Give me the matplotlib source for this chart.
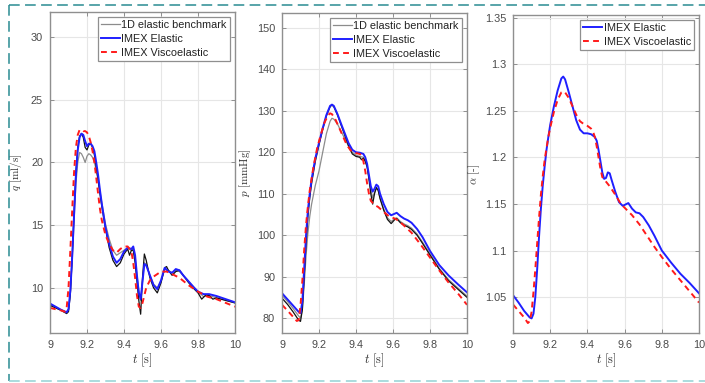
import numpy as np
import matplotlib
matplotlib.use("Agg")
import matplotlib.pyplot as plt
from matplotlib.lines import Line2D

plt.rcParams['font.family'] = ['Liberation Sans', 'DejaVu Sans']
plt.rcParams['mathtext.fontset'] = 'cm'

# ---- flow rate q [ml/s] ----
t_q_fine = [9.00, 9.03, 9.06, 9.09, 9.10, 9.11, 9.12, 9.13, 9.14, 9.15, 9.16, 9.17, 9.18, 9.19,
            9.20, 9.21, 9.22, 9.23, 9.24, 9.25, 9.26, 9.27, 9.28, 9.30, 9.32, 9.34, 9.36, 9.38,
            9.40, 9.42, 9.43, 9.44, 9.45, 9.46, 9.47, 9.48, 9.49, 9.50, 9.51, 9.52, 9.54, 9.56,
            9.58, 9.60, 9.62, 9.63, 9.64, 9.66, 9.68, 9.70, 9.72, 9.75, 9.78, 9.80, 9.82, 9.84,
            9.86, 9.88, 9.90, 9.95, 10.0]
q_bench_fine = [8.6, 8.4, 8.2, 7.95, 8.1, 9.5, 12.5, 16.0, 19.3, 21.2, 22.1, 22.3, 22.0, 21.2,
                21.0, 21.4, 21.5, 21.2, 20.6, 19.6, 18.6, 17.5, 16.5, 14.7, 13.2, 12.2, 11.7, 12.0,
                12.7, 13.1, 12.6, 13.0, 13.0, 12.0, 10.5, 9.0, 7.9, 10.8, 12.7, 12.2, 10.8, 10.0,
                9.6, 10.4, 11.6, 11.7, 11.4, 11.0, 11.3, 11.4, 11.0, 10.4, 9.9, 9.6, 9.1, 9.4,
                9.4, 9.1, 9.2, 9.0, 8.8]

t_q = [9.00, 9.03, 9.06, 9.09, 9.10, 9.11, 9.12, 9.13, 9.14, 9.15, 9.16, 9.17, 9.18, 9.19,
       9.20, 9.21, 9.22, 9.23, 9.24, 9.25, 9.26, 9.27, 9.28, 9.30, 9.32, 9.34, 9.36, 9.38,
       9.40, 9.42, 9.44, 9.45, 9.46, 9.47, 9.48, 9.49, 9.50, 9.51, 9.52, 9.54, 9.56, 9.58,
       9.60, 9.62, 9.64, 9.66, 9.68, 9.70, 9.72, 9.75, 9.78, 9.80, 9.83, 9.86, 9.90, 9.95, 10.0]
q_bench_coarse = [8.7, 8.45, 8.25, 8.05, 8.3, 9.6, 12.2, 15.3, 18.3, 20.0, 20.8, 20.7, 20.4, 20.0,
                  20.5, 20.7, 20.6, 20.4, 20.0, 19.4, 18.6, 17.7, 16.8, 15.1, 13.9, 13.0, 12.6, 12.8,
                  13.0, 13.2, 13.0, 13.1, 12.4, 11.0, 9.8, 9.0, 10.5, 12.0, 11.9, 11.0, 10.3, 10.0,
                  10.5, 11.5, 11.4, 11.2, 11.4, 11.3, 11.0, 10.5, 10.0, 9.7, 9.3, 9.4, 9.2, 9.0, 8.8]
q_elastic = [8.75, 8.5, 8.25, 8.05, 8.3, 9.8, 12.5, 15.8, 19.0, 21.0, 22.0, 22.3, 22.2, 21.7,
             21.3, 21.5, 21.5, 21.3, 20.9, 20.0, 19.0, 17.8, 16.7, 14.8, 13.5, 12.5, 12.0, 12.3,
             12.9, 13.2, 13.1, 13.3, 12.6, 11.0, 9.6, 9.1, 10.5, 11.9, 11.8, 11.0, 10.2, 9.9,
             10.6, 11.6, 11.3, 11.2, 11.5, 11.4, 11.0, 10.5, 10.0, 9.7, 9.5, 9.5, 9.35, 9.1, 8.85]

t_q_visc = [9.00, 9.03, 9.06, 9.08, 9.09, 9.10, 9.11, 9.12, 9.13, 9.14, 9.15, 9.16, 9.17, 9.18,
            9.19, 9.20, 9.21, 9.22, 9.23, 9.24, 9.25, 9.26, 9.27, 9.28, 9.30, 9.32, 9.34, 9.36,
            9.38, 9.40, 9.42, 9.44, 9.45, 9.46, 9.47, 9.48, 9.49, 9.50, 9.52, 9.54, 9.56, 9.58,
            9.60, 9.63, 9.66, 9.70, 9.75, 9.80, 9.85, 9.90, 9.95, 10.0]
q_visc = [8.4, 8.3, 8.2, 8.1, 8.4, 10.0, 13.0, 16.2, 19.2, 21.2, 22.2, 22.6, 22.6, 22.5,
          22.5, 22.4, 22.1, 21.6, 20.9, 20.0, 18.8, 17.5, 16.3, 15.4, 14.2, 13.5, 13.0, 12.8,
          13.1, 13.3, 13.3, 12.9, 12.0, 10.8, 9.4, 8.5, 8.4, 8.8, 10.0, 10.6, 10.9, 11.1,
          11.3, 11.3, 11.1, 10.8, 10.2, 9.7, 9.3, 9.1, 8.8, 8.5]

# ---- pressure p [mmHg] ----
t_p = [9.00, 9.03, 9.06, 9.09, 9.10, 9.11, 9.12, 9.13, 9.14, 9.15, 9.16, 9.18, 9.20, 9.22,
       9.24, 9.26, 9.27, 9.28, 9.30, 9.32, 9.34, 9.36, 9.38, 9.40, 9.42, 9.44, 9.45, 9.46,
       9.47, 9.48, 9.49, 9.50, 9.51, 9.52, 9.53, 9.55, 9.57, 9.59, 9.61, 9.62, 9.64, 9.66,
       9.68, 9.70, 9.73, 9.76, 9.80, 9.85, 9.90, 9.95, 10.0]
p_elastic = [86.0, 84.5, 83.0, 81.5, 81.2, 84.0, 92.0, 100.0, 106.0, 110.0, 113.5, 118.5, 122.3, 125.8,
             129.0, 131.2, 131.5, 131.2, 129.2, 126.8, 124.5, 122.2, 120.6, 120.0, 119.9, 119.6, 118.8, 117.2,
             114.5, 111.8, 110.5, 111.2, 112.2, 111.8, 110.0, 107.5, 105.6, 104.8, 105.2, 105.4, 104.6, 104.0,
             103.6, 103.0, 101.5, 99.5, 96.2, 92.8, 90.3, 88.2, 86.2]
p_bench_coarse = [85.5, 84.0, 82.3, 80.5, 80.0, 82.0, 88.0, 95.0, 100.5, 104.5, 107.5, 112.0, 115.5, 120.0,
                  124.5, 127.5, 128.2, 128.0, 126.8, 125.0, 123.2, 121.5, 120.0, 119.3, 119.0, 118.8, 118.0, 116.5,
                  114.0, 111.0, 109.0, 110.3, 111.3, 110.8, 109.0, 106.3, 104.2, 103.3, 104.0, 104.2, 103.3, 102.7,
                  102.3, 101.7, 100.3, 98.3, 95.5, 92.0, 89.3, 87.3, 85.3]

t_p_fine = [9.00, 9.03, 9.06, 9.09, 9.10, 9.11, 9.12, 9.13, 9.14, 9.15, 9.16, 9.18, 9.20, 9.22,
            9.24, 9.26, 9.27, 9.28, 9.30, 9.32, 9.34, 9.36, 9.38, 9.40, 9.42, 9.43, 9.44, 9.45,
            9.46, 9.47, 9.48, 9.49, 9.50, 9.51, 9.52, 9.53, 9.55, 9.57, 9.59, 9.61, 9.62, 9.64,
            9.66, 9.68, 9.70, 9.73, 9.76, 9.80, 9.85, 9.90, 9.95, 10.0]
p_bench_fine = [84.8, 83.3, 81.5, 79.5, 79.2, 82.0, 90.0, 98.0, 104.5, 109.0, 112.5, 117.8, 121.8, 125.5,
                128.8, 131.0, 131.4, 131.0, 129.0, 126.5, 124.0, 121.5, 119.6, 119.0, 118.8, 118.2, 118.6, 117.8,
                116.5, 113.5, 110.0, 107.5, 110.0, 111.5, 110.8, 108.8, 106.0, 103.8, 102.8, 103.8, 104.0, 103.0,
                102.4, 102.0, 101.4, 100.0, 98.0, 95.2, 91.8, 89.0, 87.0, 85.0]

t_p_visc = [9.00, 9.03, 9.06, 9.08, 9.09, 9.10, 9.11, 9.12, 9.13, 9.14, 9.15, 9.17, 9.19, 9.21,
            9.23, 9.25, 9.26, 9.27, 9.29, 9.31, 9.33, 9.35, 9.37, 9.40, 9.42, 9.43, 9.44, 9.45,
            9.46, 9.47, 9.48, 9.50, 9.52, 9.55, 9.58, 9.61, 9.63, 9.66, 9.70, 9.75, 9.80, 9.85,
            9.90, 9.95, 10.0]
p_visc = [83.2, 81.8, 80.3, 79.3, 79.5, 83.0, 89.0, 96.5, 102.5, 107.0, 110.8, 116.5, 121.0, 124.3,
          127.2, 129.0, 129.4, 129.2, 127.8, 125.8, 123.8, 121.8, 120.5, 119.8, 119.6, 119.2, 117.8, 115.5,
          112.5, 110.0, 108.3, 107.3, 106.8, 105.6, 104.5, 104.0, 103.5, 102.3, 100.6, 97.7, 94.6, 91.5,
          88.6, 86.0, 83.2]

# ---- area ratio alpha [-] ----
t_a = [9.00, 9.03, 9.06, 9.09, 9.10, 9.11, 9.12, 9.13, 9.14, 9.15, 9.16, 9.17, 9.18, 9.19,
       9.20, 9.22, 9.24, 9.26, 9.27, 9.28, 9.30, 9.32, 9.34, 9.36, 9.38, 9.40, 9.42, 9.44,
       9.45, 9.46, 9.47, 9.48, 9.49, 9.50, 9.51, 9.52, 9.53, 9.55, 9.57, 9.59, 9.61, 9.62,
       9.64, 9.66, 9.68, 9.70, 9.73, 9.76, 9.80, 9.85, 9.90, 9.95, 10.0]
a_elastic = [1.052, 1.044, 1.035, 1.028, 1.027, 1.032, 1.050, 1.080, 1.115, 1.145, 1.170, 1.190, 1.208, 1.222,
             1.235, 1.255, 1.272, 1.285, 1.287, 1.284, 1.270, 1.255, 1.240, 1.230, 1.226, 1.226, 1.225, 1.222,
             1.218, 1.208, 1.196, 1.184, 1.177, 1.178, 1.184, 1.183, 1.176, 1.163, 1.152, 1.148, 1.150, 1.151,
             1.145, 1.141, 1.140, 1.136, 1.127, 1.116, 1.100, 1.087, 1.075, 1.065, 1.054]

t_a_visc = [9.00, 9.03, 9.06, 9.08, 9.09, 9.10, 9.11, 9.12, 9.13, 9.14, 9.15, 9.16, 9.17, 9.18,
            9.19, 9.20, 9.22, 9.24, 9.26, 9.27, 9.28, 9.30, 9.32, 9.34, 9.36, 9.38, 9.40, 9.42,
            9.43, 9.44, 9.45, 9.46, 9.47, 9.48, 9.50, 9.52, 9.55, 9.58, 9.61, 9.64, 9.68, 9.72,
            9.76, 9.80, 9.85, 9.90, 9.95, 10.0]
a_visc = [1.042, 1.035, 1.028, 1.022, 1.024, 1.034, 1.055, 1.080, 1.108, 1.135, 1.160, 1.180, 1.197, 1.210,
          1.222, 1.232, 1.249, 1.262, 1.270, 1.271, 1.270, 1.264, 1.255, 1.246, 1.239, 1.236, 1.234, 1.231,
          1.228, 1.222, 1.212, 1.200, 1.188, 1.179, 1.174, 1.169, 1.160, 1.150, 1.144, 1.138, 1.128, 1.116,
          1.104, 1.093, 1.080, 1.068, 1.056, 1.044]

x_ticks = [9, 9.2, 9.4, 9.6, 9.8, 10]
x_ticklabels = ['9', '9.2', '9.4', '9.6', '9.8', '10']

BLUE = '#1f1fff'
RED = '#ff1a1a'
GRAY_TXT = '#4a4a4a'

fig = plt.figure(figsize=(7.05, 3.83), dpi=100)
W, H = 705, 383


def make_ax(left, right, top, bottom=333):
    return fig.add_axes([left / W, 1 - bottom / H, (right - left) / W, (bottom - top) / H])


def style(ax, ylim, yticks, yticklabels, ylabel, ylabel_x):
    ax.set_xlim(9, 10)
    ax.set_ylim(*ylim)
    ax.set_xticks(x_ticks)
    ax.set_xticklabels(x_ticklabels)
    ax.set_yticks(yticks)
    ax.set_yticklabels(yticklabels)
    ax.grid(True, color='#e6e6e6', linewidth=0.8)
    ax.set_axisbelow(True)
    for s in ax.spines.values():
        s.set_color('#8f8f8f')
        s.set_linewidth(1.0)
    ax.tick_params(direction='in', length=3, width=0.7, color='#8f8f8f',
                   labelsize=7.8, labelcolor=GRAY_TXT, top=True, right=True, pad=5)
    ax.set_xlabel(r'$t\ \mathrm{[s]}$', fontsize=9, color='#333333', labelpad=1)
    ax.set_ylabel(ylabel, fontsize=8, color='#333333')
    ax.yaxis.set_label_coords(ylabel_x, 0.5)


def legend(ax):
    leg = ax.legend(loc='upper right', fontsize=7.8, handlelength=1.75, handletextpad=0.15,
                    labelspacing=0.35, borderpad=0.3, borderaxespad=0.45, fancybox=False,
                    framealpha=1.0, edgecolor='#8f8f8f')
    leg.get_frame().set_linewidth(0.9)
    for txt in leg.get_texts():
        txt.set_color('#222222')


# panel 1: q
ax1 = make_ax(50, 235, 12)
ax1.plot(t_q, q_bench_coarse, color='#8c8c8c', lw=0.9, label='1D elastic benchmark')
ax1.plot(t_q_fine, q_bench_fine, color='#111111', lw=0.9)
ax1.plot(t_q, q_elastic, color=BLUE, lw=1.4, label='IMEX Elastic')
ax1.plot(t_q_visc, q_visc, color=RED, lw=1.4, ls=(0, (3, 2.2)), label='IMEX Viscoelastic')
style(ax1, (6.4, 32), [10, 15, 20, 25, 30], ['10', '15', '20', '25', '30'],
      r'$q\ \mathrm{[ml/s]}$', -0.14)
legend(ax1)

# panel 2: p
ax2 = make_ax(282, 467, 13)
ax2.plot(t_p, p_bench_coarse, color='#8c8c8c', lw=0.9, label='1D elastic benchmark')
ax2.plot(t_p_fine, p_bench_fine, color='#111111', lw=0.9)
ax2.plot(t_p, p_elastic, color=BLUE, lw=1.4, label='IMEX Elastic')
ax2.plot(t_p_visc, p_visc, color=RED, lw=1.4, ls=(0, (3, 2.2)), label='IMEX Viscoelastic')
style(ax2, (76.4, 153.6), [80, 90, 100, 110, 120, 130, 140, 150],
      ['80', '90', '100', '110', '120', '130', '140', '150'],
      r'$p\ \mathrm{[mmHg]}$', -0.155)
legend(ax2)

# panel 3: alpha
ax3 = make_ax(513, 699, 15)
ax3.plot(t_a, a_elastic, color=BLUE, lw=1.4, label='IMEX Elastic')
ax3.plot(t_a_visc, a_visc, color=RED, lw=1.4, ls=(0, (3, 2.2)), label='IMEX Viscoelastic')
style(ax3, (1.0113, 1.3532), [1.05, 1.1, 1.15, 1.2, 1.25, 1.3, 1.35],
      ['1.05', '1.1', '1.15', '1.2', '1.25', '1.3', '1.35'],
      r'$\alpha\ \mathrm{[\text{-}]}$', -0.165)
legend(ax3)

# dashed frame around the figure
dash = (0, (7, 3.5))
fig.add_artist(Line2D([9 / W, 1.0], [1 - 5 / H, 1 - 5 / H], color='#2a8c92', lw=1.1, ls=dash))
fig.add_artist(Line2D([9 / W, 9 / W], [1 - 5 / H, 1 - 381 / H], color='#2a8c92', lw=1.1, ls=dash))
fig.add_artist(Line2D([9 / W, 1.0], [1 - 381 / H, 1 - 381 / H], color='#93d2d4', lw=1.1, ls=dash))

fig.savefig('out.png', dpi=100)
